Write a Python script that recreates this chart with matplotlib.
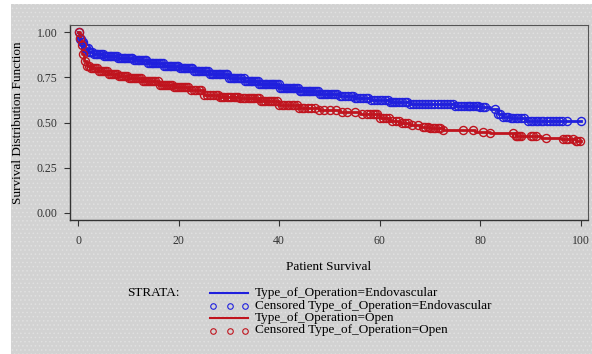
import matplotlib
matplotlib.use("Agg")
import matplotlib.pyplot as plt
import numpy as np
from matplotlib.lines import Line2D
from matplotlib.patches import Rectangle

# Kaplan-Meier step knots
endo_t = [0, 0.2, 0.6, 1.2, 2.0, 3.0, 5, 8, 11, 14, 17, 20, 23, 26, 30, 33, 36, 40,
          44, 48, 52, 55, 58, 62, 66, 70, 75, 80, 82, 83.5, 84.5, 86, 89, 100]
endo_s = [1.0, 0.965, 0.945, 0.915, 0.89, 0.88, 0.87, 0.855, 0.845, 0.83, 0.815, 0.80,
          0.785, 0.77, 0.745, 0.73, 0.715, 0.69, 0.675, 0.66, 0.645, 0.635, 0.625, 0.615,
          0.605, 0.60, 0.59, 0.585, 0.575, 0.545, 0.53, 0.525, 0.51, 0.51]
open_t = [0, 0.3, 0.5, 0.8, 1.2, 1.7, 2.5, 4, 6, 8, 10, 13, 16, 19, 22, 25, 28, 32,
          36, 40, 44, 48, 52, 56, 60, 62, 64, 66, 68, 70, 72.5, 79, 82, 87, 92, 96, 99, 100]
open_s = [1.0, 0.97, 0.93, 0.88, 0.84, 0.815, 0.80, 0.785, 0.77, 0.755, 0.745, 0.73,
          0.71, 0.695, 0.68, 0.655, 0.64, 0.635, 0.62, 0.595, 0.58, 0.572, 0.56, 0.545,
          0.525, 0.51, 0.495, 0.485, 0.475, 0.468, 0.46, 0.45, 0.44, 0.425, 0.415, 0.41,
          0.40, 0.40]

# censored times
endo_cens = [0.1, 0.3, 0.5, 0.8, 1.0, 1.3, 1.6, 1.9, 2.1, 2.4, 2.8, 3.1, 3.5, 3.8, 4.2,
             4.5, 4.9, 5.2, 5.6, 5.9, 6.3, 6.6, 7.0, 7.3, 7.7, 8.0, 8.4, 8.7, 9.1, 9.4,
             9.8, 10.1, 10.5, 10.8, 11.2, 11.5, 11.9, 12.2, 12.6, 12.9, 13.3, 13.6, 14.0,
             14.3, 14.7, 15.0, 15.4, 15.7, 16.1, 16.4, 16.8, 17.1, 17.5, 17.8, 18.2, 18.5,
             18.9, 19.2, 19.6, 19.9, 20.3, 20.6, 21.0, 21.3, 21.7, 22.0, 22.4, 22.7, 23.1,
             23.4, 23.8, 24.1, 24.5, 24.8, 25.2, 25.5, 25.9, 26.2, 26.6, 26.9, 27.3, 27.6,
             28.0, 28.3, 28.7, 29.0, 29.4, 29.7, 30.1, 30.4, 30.8, 31.1, 31.5, 31.8, 32.2,
             32.5, 32.9, 33.2, 33.6, 33.9, 34.3, 34.6, 35.0, 35.3, 35.7, 36.0, 36.4, 36.7,
             37.1, 37.4, 37.8, 38.1, 38.5, 38.8, 39.2, 39.5, 39.9, 40.2, 40.6, 40.9, 41.3,
             41.6, 42.0, 42.3, 42.7, 43.0, 43.4, 43.7, 44.1, 44.4, 44.8, 45.1, 45.5, 45.9,
             46.2, 46.6, 47.0, 47.4, 47.8, 48.2, 48.6, 49.0, 49.4, 49.8, 50.2, 50.6, 51.0,
             51.5, 52.0, 52.5, 53.0, 53.6, 54.2, 54.6, 55.0, 55.5, 56.0, 56.6, 57.2, 57.7,
             58.3, 58.9, 59.5, 60.0, 60.5, 61.0, 61.6, 62.0, 62.4, 62.9, 63.3, 63.9, 64.5,
             65.0, 65.5, 66.0, 66.6, 67.2, 67.8, 68.4, 69.0, 69.6, 70.2, 70.8, 71.5, 72.1,
             72.8, 73.4, 74.0, 74.5, 75.0, 75.6, 76.2, 76.8, 77.3, 77.7, 78.0, 78.6, 79.2,
             79.6, 80.0, 80.5, 81.0, 83.0, 83.6, 84.0, 84.5, 85.0, 85.5, 86.0, 86.5, 87.0,
             87.5, 88.0, 88.7, 89.5, 90.0, 90.5, 91.0, 91.5, 92.0, 92.5, 93.2, 93.8, 94.4,
             95.0, 95.6, 96.3, 97.2, 100.0]
open_cens = [0.2, 0.4, 0.7, 1.0, 1.4, 1.8, 2.2, 2.6, 3.0, 3.4, 3.8, 4.2, 4.6, 5.0, 5.4,
             5.8, 6.2, 6.6, 7.0, 7.4, 7.8, 8.2, 8.6, 9.0, 9.4, 9.8, 10.2, 10.6, 11.0, 11.4,
             11.8, 12.2, 12.6, 13.0, 13.4, 13.8, 14.2, 14.6, 15.0, 15.4, 15.8, 16.2, 16.6,
             17.0, 17.4, 17.8, 18.2, 18.6, 19.0, 19.4, 19.8, 20.2, 20.6, 21.0, 21.5, 21.9,
             22.4, 23.0, 23.5, 24.0, 24.5, 25.0, 25.6, 26.2, 26.8, 27.4, 27.9, 28.3, 28.7,
             29.1, 29.6, 30.0, 30.5, 31.0, 31.4, 31.8, 32.3, 32.8, 33.2, 33.7, 34.1, 34.5,
             35.0, 35.5, 35.9, 36.3, 36.8, 37.2, 37.7, 38.1, 38.6, 39.0, 39.5, 40.0, 40.5,
             41.0, 41.5, 42.0, 42.5, 43.0, 43.5, 44.0, 44.5, 45.0, 45.7, 46.3, 47.2, 48.0,
             49.0, 50.0, 51.2, 52.5, 53.5, 55.0, 56.5, 57.5, 58.0, 58.6, 59.0, 59.5, 60.0,
             60.6, 61.2, 61.8, 62.5, 63.2, 63.8, 64.4, 65.0, 65.7, 66.5, 67.5, 68.5, 69.0,
             69.5, 70.0, 70.5, 71.0, 71.5, 72.0, 72.5, 76.5, 78.5, 80.5, 82.0, 86.5, 87.0,
             87.3, 87.7, 88.0, 90.0, 90.5, 91.0, 93.0, 96.5, 97.0, 97.5, 98.5, 99.0, 99.3,
             99.8]

endo_color = "#2020dd"
open_color = "#c0141e"


def step_at(times, surv, t):
    idx = np.searchsorted(times, t, side="right") - 1
    return np.asarray(surv)[idx]


plt.rcParams["hatch.linewidth"] = 0.6

fig = plt.figure(figsize=(5.92, 3.54), dpi=100)
fig.patch.set_facecolor("white")
bg = Rectangle((11 / 592, 0), 1 - 11 / 592, 1 - 4 / 354, transform=fig.transFigure,
               facecolor="#d2d2d2", edgecolor="#e0e0e0", hatch="....", lw=0, zorder=-10)
fig.patches.append(bg)

ax = fig.add_axes([70 / 592, 1 - 220 / 354, 518 / 592, 195 / 354])
ax.set_facecolor("none")

for t, s, c, col in [(endo_t, endo_s, endo_cens, endo_color),
                     (open_t, open_s, open_cens, open_color)]:
    ax.step(t, s, where="post", color=col, lw=2.0, zorder=3)
    ax.plot(c, step_at(t, s, c), ls="none", marker="o", ms=5.8, mfc="none",
            mec=col, mew=1.0, zorder=4)

ax.set_xlim(-1.6, 101.4)
ax.set_ylim(-0.04, 1.04)
ax.set_xticks([0, 20, 40, 60, 80, 100])
ax.set_yticks([0, 0.25, 0.5, 0.75, 1.0])
ax.set_yticklabels(["0.00", "0.25", "0.50", "0.75", "1.00"])

serif = "Liberation Serif"
for lab in ax.get_xticklabels() + ax.get_yticklabels():
    lab.set_fontfamily(serif)
    lab.set_fontsize(8.5)
ax.tick_params(direction="out", length=4, width=0.8, colors="#333333", pad=5)
ax.tick_params(axis="x", pad=7)

for side in ["left", "bottom"]:
    ax.spines[side].set_color("#333333")
    ax.spines[side].set_linewidth(1.0)
for side in ["top", "right"]:
    ax.spines[side].set_color("#555555")
    ax.spines[side].set_linewidth(0.8)

ax.set_xlabel("Patient Survival", fontfamily=serif, fontsize=9.5, labelpad=10)
ax.set_ylabel("Survival Distribution Function", fontfamily=serif, fontsize=9.5, labelpad=9)

# legend drawn below the axes
fig.text(127 / 592, 1 - 293 / 354, "STRATA:", fontfamily=serif, fontsize=9.5,
         va="center", ha="left")
labels = ["Type_of_Operation=Endovascular",
          "Censored Type_of_Operation=Endovascular",
          "Type_of_Operation=Open",
          "Censored Type_of_Operation=Open"]
rows_y = [293, 305.5, 318, 330.5]
for i, (lab, yy) in enumerate(zip(labels, rows_y)):
    col = endo_color if i < 2 else open_color
    yf = 1 - yy / 354
    if i % 2 == 0:
        fig.add_artist(Line2D([210 / 592, 248 / 592], [yf, yf], color=col, lw=1.5,
                              transform=fig.transFigure))
    else:
        fig.add_artist(Line2D([213 / 592, 230 / 592, 245 / 592], [yf, yf, yf], ls="none",
                              marker="o", ms=4, mfc="none", mec=col, mew=0.8,
                              transform=fig.transFigure))
    fig.text(255 / 592, yf, lab, fontfamily=serif, fontsize=9.5, va="center", ha="left")

fig.savefig("out.png", dpi=100)
